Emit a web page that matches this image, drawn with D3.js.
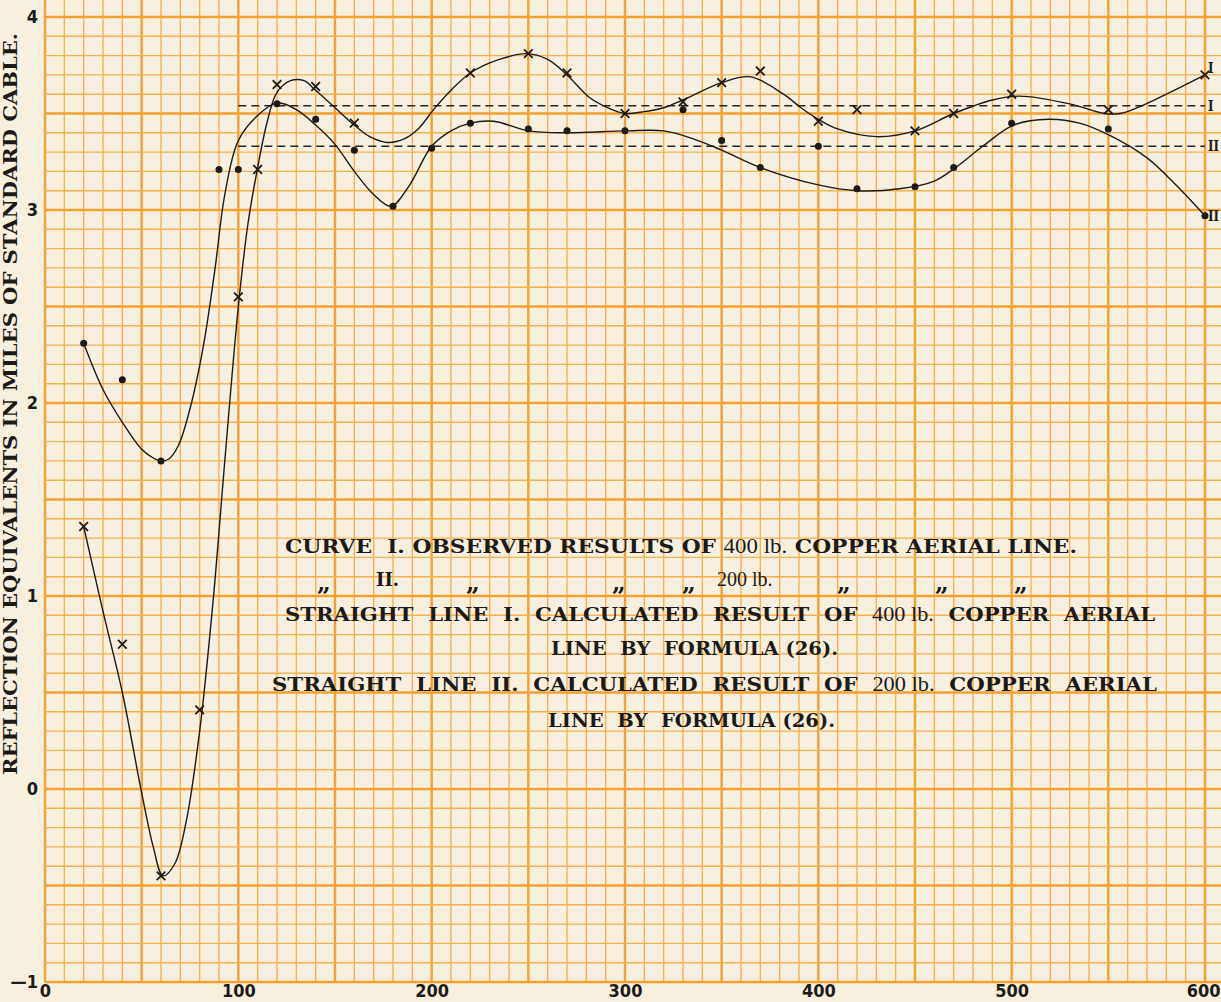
<!DOCTYPE html>
<html>
<head>
<meta charset="utf-8">
<script src="https://cdn.jsdelivr.net/npm/d3@7"></script>
<style>
  html, body { margin: 0; padding: 0; background: #f8f0de; }
  svg { display: block; }
</style>
</head>
<body>
<svg id="chart" width="1221" height="1002"></svg>
<script>
// Tick labels
const xTicks = [0, 100, 200, 300, 400, 500, 600];
const yTicks = [-1, 0, 1, 2, 3, 4];

// Curve I: observed results, 400 lb. copper aerial line (crosses)
const lengthsI = [20, 40, 60, 80, 100, 110, 120, 140, 160, 220, 250, 270, 300, 330, 350, 370, 400, 420, 450, 470, 500, 550, 600];
const valuesI  = [1.36, 0.75, -0.45, 0.41, 2.55, 3.21, 3.65, 3.64, 3.45, 3.71, 3.81, 3.71, 3.50, 3.56, 3.66, 3.72, 3.46, 3.52, 3.41, 3.50, 3.60, 3.52, 3.70];

// Curve II: observed results, 200 lb. copper aerial line (dots)
const lengthsII = [20, 40, 60, 90, 100, 120, 140, 160, 180, 200, 220, 250, 270, 300, 330, 350, 370, 400, 420, 450, 470, 500, 550, 600];
const valuesII  = [2.31, 2.12, 1.70, 3.21, 3.21, 3.55, 3.47, 3.31, 3.02, 3.32, 3.45, 3.42, 3.41, 3.41, 3.52, 3.36, 3.22, 3.33, 3.11, 3.12, 3.22, 3.45, 3.42, 2.97];

// Faired (hand-smoothed) curves drawn through the observations
const fairedI = [
  [20, 1.36], [30, 0.92], [40, 0.50], [50, -0.02], [56, -0.30], [61, -0.45], [67, -0.39],
  [73, -0.17], [80, 0.30], [87, 0.98], [93, 1.70], [100, 2.50], [105, 2.93], [110, 3.22],
  [115, 3.46], [120, 3.61], [127, 3.67], [134, 3.67], [140, 3.62], [150, 3.53], [160, 3.44],
  [168, 3.38], [177, 3.35], [186, 3.37], [193, 3.42], [201, 3.52], [210, 3.62], [220, 3.71],
  [235, 3.78], [249, 3.81], [260, 3.78], [270, 3.70], [282, 3.58], [291, 3.53], [300, 3.50],
  [310, 3.51], [320, 3.53], [330, 3.57], [350, 3.66], [365, 3.69], [382, 3.60], [391, 3.53],
  [400, 3.47], [410, 3.42], [430, 3.38], [450, 3.41], [470, 3.50], [490, 3.57], [504, 3.59],
  [530, 3.55], [548, 3.50], [556, 3.50], [565, 3.53], [600, 3.70]
];
const fairedII = [
  [20, 2.31], [30, 2.07], [40, 1.90], [50, 1.76], [56, 1.715], [60, 1.70], [64, 1.71], [69, 1.78],
  [75, 1.97], [82, 2.30], [88, 2.70], [93, 3.08], [100, 3.36], [110, 3.49], [120, 3.555], [130, 3.52],
  [140, 3.44], [150, 3.34], [160, 3.20], [170, 3.08], [179, 3.02], [188, 3.12], [200, 3.33],
  [210, 3.41], [220, 3.45], [232, 3.46], [250, 3.41], [270, 3.40], [300, 3.41], [320, 3.41],
  [335, 3.37], [350, 3.31], [370, 3.22], [400, 3.13], [420, 3.10], [442, 3.11], [460, 3.15],
  [471, 3.22], [485, 3.33], [501, 3.44], [519, 3.47], [535, 3.45], [550, 3.39], [570, 3.27],
  [584, 3.14], [600, 2.97]
];

// Straight lines calculated by formula (26): I = 400 lb., II = 200 lb.
const formulaValues = [3.54, 3.33];
const formulaRange = [100, 600];

// Explanatory text
const legendRow1 = ["CURVE  I. OBSERVED RESULTS OF ", "400 lb.", " COPPER AERIAL LINE."];
const dittoRow = ["\u201E", "II.", "\u201E", "\u201E", "\u201E", "200 lb.", "\u201E", "\u201E", "\u201E"];
const legendRow3 = ["STRAIGHT  LINE  I.  CALCULATED  RESULT  OF  ", "400 lb.", "  COPPER  AERIAL"];
const legendRow4 = ["LINE  BY  FORMULA (26)."];
const legendRow5 = ["STRAIGHT  LINE  II.  CALCULATED  RESULT  OF  ", "200 lb.", "  COPPER  AERIAL"];
const legendRow6 = ["LINE  BY  FORMULA (26)."];
const yTitle = "REFLECTION EQUIVALENTS IN MILES OF STANDARD CABLE.";

// ---------------------------------------------------------------
const svg = d3.select("#chart");
const W = 1221, H = 1002;

const x = d3.scaleLinear().domain([0, 600]).range([45, 1205]);
const y = d3.scaleLinear().domain([-1, 4]).range([982, 17]);

const paper = "#f8f0de";
const ink = "#1c1a18";
const serif = "'DejaVu Serif', 'Liberation Serif', serif";
const narrow = "'Liberation Sans Narrow', 'DejaVu Sans Condensed', 'Liberation Sans', sans-serif";

svg.append("rect").attr("width", W).attr("height", H).attr("fill", paper);

// Graph paper: ruled every 10 miles and every 0.1 unit, heavier every 5th line
const gridX0 = x(0), gridY0 = y(-1);
const grid = svg.append("g");
const vLines = d3.range(0, 61).map(i => i * 10);
const hLines = d3.range(0, 52).map(i => -1 + i * 0.1);
const minorC = "#f7b14f", majorC = "#f4a030";

grid.selectAll("line.v").data(vLines).join("line")
  .attr("x1", d => x(d)).attr("x2", d => x(d))
  .attr("y1", 0).attr("y2", gridY0)
  .attr("stroke", (d, i) => i % 5 === 0 ? majorC : minorC)
  .attr("stroke-width", (d, i) => i % 5 === 0 ? 2.4 : 1.4);

grid.selectAll("line.h").data(hLines).join("line")
  .attr("x1", gridX0).attr("x2", W)
  .attr("y1", d => y(d)).attr("y2", d => y(d))
  .attr("stroke", (d, i) => i % 5 === 0 ? majorC : minorC)
  .attr("stroke-width", (d, i) => i % 5 === 0 ? 2.4 : 1.4);

// Axes (labels only)
const fmt = d => d < 0 ? "\u2014" + (-d) : String(d);
const xAxis = svg.append("g").attr("transform", `translate(0,${gridY0})`)
  .call(d3.axisBottom(x).tickValues(xTicks).tickSize(0).tickPadding(2).tickFormat(fmt));
const yAxis = svg.append("g").attr("transform", `translate(${gridX0},0)`)
  .call(d3.axisLeft(y).tickValues(yTicks).tickSize(0).tickPadding(7).tickFormat(fmt));
[xAxis, yAxis].forEach(a => {
  a.select(".domain").remove();
  a.selectAll("text")
    .attr("fill", ink)
    .style("font-family", narrow)
    .style("font-weight", "bold")
    .style("font-size", "18px");
});
// the rightmost label sits flush with the page edge
xAxis.selectAll(".tick").filter(d => d === 600).select("text").attr("dx", "-0.1em");

// Axis title
svg.append("text")
  .attr("transform", "translate(17,775) rotate(-90)")
  .attr("textLength", 742).attr("lengthAdjust", "spacingAndGlyphs")
  .attr("fill", ink)
  .style("font-family", serif).style("font-weight", "bold").style("font-size", "19px")
  .text(yTitle);

// Straight lines by formula
svg.selectAll("line.formula").data(formulaValues).join("line")
  .attr("x1", x(formulaRange[0])).attr("x2", x(formulaRange[1]))
  .attr("y1", d => y(d)).attr("y2", d => y(d))
  .attr("stroke", "#262422").attr("stroke-width", 1.6)
  .attr("stroke-dasharray", "8,5");

// Faired curves
const line = d3.line().x(d => x(d[0])).y(d => y(d[1])).curve(d3.curveCatmullRom.alpha(0.5));
[fairedI, fairedII].forEach(pts => {
  svg.append("path").attr("d", line(pts))
    .attr("fill", "none").attr("stroke", ink).attr("stroke-width", 1.4)
    .attr("stroke-linejoin", "round");
});

// Observations: crosses for curve I
const cross = 4.3;
const crossG = svg.append("g");
lengthsI.forEach((len, i) => {
  const cx = x(len), cy = y(valuesI[i]);
  crossG.append("path")
    .attr("d", `M${cx - cross},${cy - cross}L${cx + cross},${cy + cross}M${cx - cross},${cy + cross}L${cx + cross},${cy - cross}`)
    .attr("stroke", ink).attr("stroke-width", 1.8).attr("fill", "none");
});

// Observations: dots for curve II
svg.append("g").selectAll("circle").data(lengthsII).join("circle")
  .attr("cx", d => x(d))
  .attr("cy", (d, i) => y(valuesII[i]))
  .attr("r", 3.5)
  .attr("fill", ink);

// Curve / line identifiers at the right margin
const endLabels = [
  { t: "I", py: y(valuesI[valuesI.length - 1]) - 7 },
  { t: "I", py: y(formulaValues[0]) },
  { t: "II", py: y(formulaValues[1]) },
  { t: "II", py: y(valuesII[valuesII.length - 1]) }
];
svg.selectAll("text.end").data(endLabels).join("text")
  .attr("x", x(600) + 3).attr("y", d => d.py + 5)
  .attr("fill", ink)
  .style("font-family", serif).style("font-weight", "bold").style("font-size", "15px")
  .attr("textLength", d => d.t.length * 5.5).attr("lengthAdjust", "spacingAndGlyphs")
  .text(d => d.t);

// Explanatory legend block
function legendLine(parts, x0, baseline, len) {
  const t = svg.append("text")
    .attr("x", x0).attr("y", baseline)
    .attr("textLength", len).attr("lengthAdjust", "spacingAndGlyphs")
    .attr("fill", ink)
    .style("font-family", serif).style("font-size", "19px")
    .attr("xml:space", "preserve")
    .style("white-space", "pre");
  parts.forEach(p => {
    const num = /lb\./.test(p);
    t.append("tspan")
      .style("font-weight", num ? "normal" : "bold")
      .style("font-family", num ? "'Liberation Serif', serif" : serif)
      .style("font-size", num ? "20px" : "19px")
      .text(p);
  });
}
legendLine(legendRow1, 285, 553, 792);
legendLine(legendRow3, 285, 621, 870);
legendLine(legendRow4, 551, 655, 287);
legendLine(legendRow5, 272, 691, 885);
legendLine(legendRow6, 548, 727, 287);

// Ditto row
const dittoX = [317, 376, 466, 612, 682, 717, 837, 935, 1014];
dittoRow.forEach((p, i) => {
  const num = /lb\./.test(p);
  const ditto = p === "\u201E";
  svg.append("text")
    .attr("x", dittoX[i]).attr("y", ditto ? 591 : 586)
    .attr("fill", ink)
    .style("font-family", num ? "'Liberation Serif', serif" : serif)
    .style("font-weight", num ? "normal" : "bold")
    .style("font-size", num ? "20px" : ditto ? "24px" : "18px")
    .text(p);
});
</script>
</body>
</html>
